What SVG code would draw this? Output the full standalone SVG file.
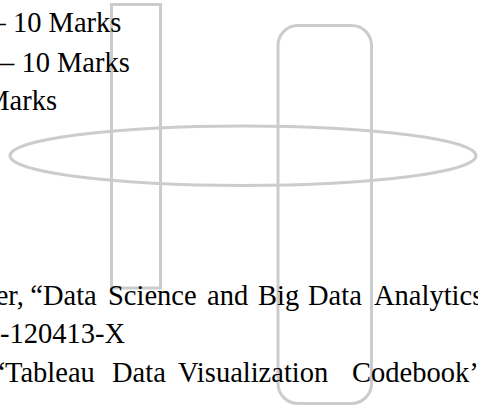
<svg xmlns="http://www.w3.org/2000/svg" width="478" height="408" viewBox="0 0 478 408">
<style>
.s{fill:none;stroke:#cccccc;stroke-width:3}
.t{font-family:"Liberation Serif","Times New Roman",serif;font-size:28.5px;fill:#000}
</style>
<rect width="478" height="408" fill="#ffffff"/>
<g id="shape-ellipse"><ellipse class="s" cx="243" cy="155.7" rx="233" ry="29.7"/></g>
<g id="shape-rect"><rect class="s" x="111.5" y="4.5" width="49" height="283.5"/></g>
<g id="shape-rounded"><rect class="s" x="278" y="25.5" width="93.5" height="378" rx="20" ry="20"/></g>
<g id="text-top">
<text class="t" x="-8.4" y="32">– 10 Marks</text>
<text class="t" x="0" y="71.5">– 10 Marks</text>
<text class="t" x="-15.8" y="110">Marks</text>
</g>
<g id="text-bottom">
<text class="t" y="304.5"><tspan x="-4.3">er,</tspan><tspan x="30.3">“Data</tspan><tspan x="108">Science</tspan><tspan x="207">and</tspan><tspan x="258">Big</tspan><tspan x="308">Data</tspan><tspan x="374">Analytics</tspan></text>
<text class="t" x="0" y="343">-120413-X</text>
<text class="t" y="381.5"><tspan x="-7.6">“Tableau</tspan><tspan x="112">Data</tspan><tspan x="178">Visualization</tspan><tspan x="352">Codebook’</tspan></text>
</g>
</svg>
